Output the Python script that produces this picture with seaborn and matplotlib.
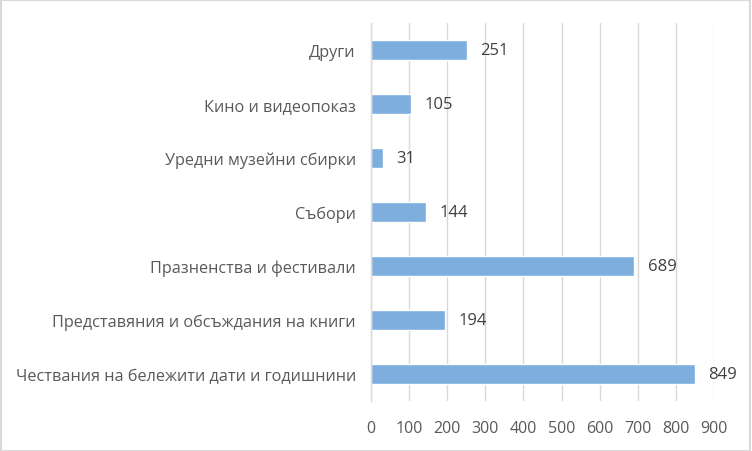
import matplotlib.pyplot as plt
import seaborn as sns
import pandas as pd

categories = ['Други', 'Кино и видеопоказ', 'Уредни музейни сбирки', 'Събори',
              'Празненства и фестивали', 'Представяния и обсъждания на книги',
              'Чествания на бележити дати и годишнини']
values = [251, 105, 31, 144, 689, 194, 849]

df = pd.DataFrame({'cat': categories, 'val': values})

sns.set_style('white')
plt.rcParams['font.family'] = ['Open Sans', 'DejaVu Sans']

fig = plt.figure(figsize=(7.52, 4.52), dpi=100)
ax = fig.add_axes([0.4934, 0.1106, 0.4561, 0.8363])

sns.barplot(data=df, x='val', y='cat', color='#7DAEDE', saturation=1,
            width=0.37, ax=ax)

ax.set_xlim(0, 900)
ax.set_xticks(range(0, 901, 100))
ax.xaxis.grid(True, color='#D9D9D9', linewidth=1)
ax.set_axisbelow(True)
for s in ['top', 'right', 'bottom']:
    ax.spines[s].set_visible(False)
ax.spines['left'].set_color('#D9D9D9')
ax.spines['left'].set_linewidth(1)
ax.tick_params(axis='y', length=0, labelsize=11.7, colors='#595959', pad=11)
ax.tick_params(axis='x', length=0, labelsize=11.5, colors='#595959', pad=14)
ax.set_xlabel('')
ax.set_ylabel('')

# подписи на стойностите
for i, v in enumerate(values):
    ax.annotate(str(v), (v, i), xytext=(10, 0), textcoords='offset points',
                va='center', ha='left', fontsize=12, color='#404040')

fig.patches.append(plt.Rectangle((0.001, 0.001), 0.997, 0.996, transform=fig.transFigure,
                                 fill=False, edgecolor='#D9D9D9', linewidth=1.5))

fig.savefig('out.png', dpi=100)
